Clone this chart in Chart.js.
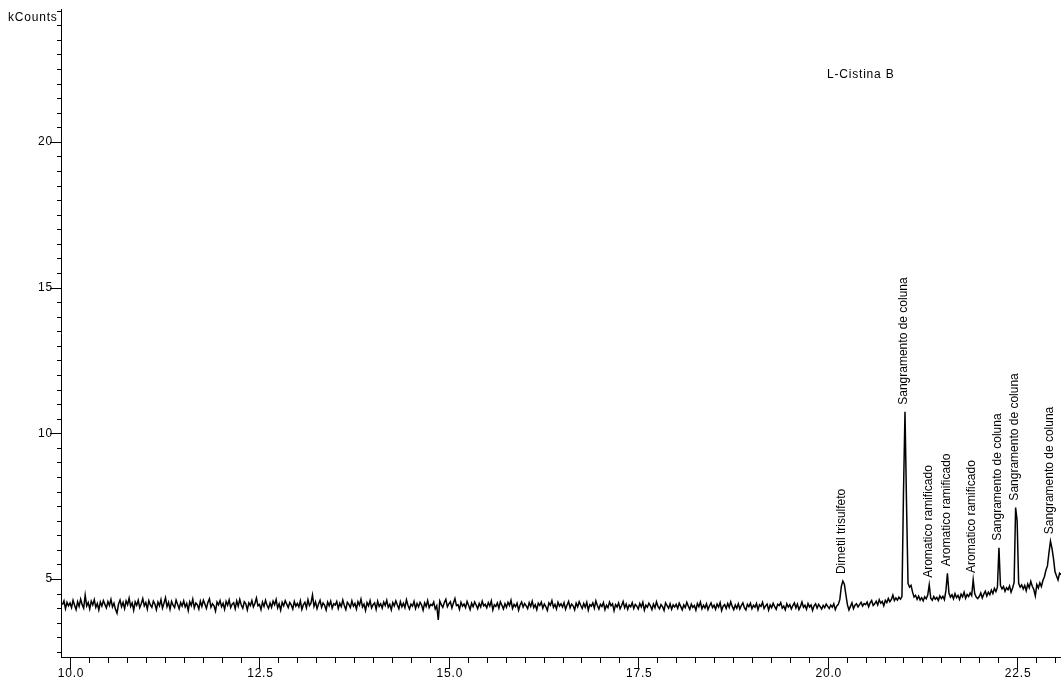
<!DOCTYPE html>
<html>
<head>
<meta charset="utf-8">
<title>L-Cistina B</title>
<script src="https://cdn.jsdelivr.net/npm/chart.js@4.4.1/dist/chart.umd.min.js"></script>
<style>
  html, body { margin: 0; padding: 0; background: #fff; }
  #wrap { width: 1061px; height: 681px; }
</style>
</head>
<body>
<div id="wrap"><canvas id="chrom" width="1061" height="681"></canvas></div>
<script>
// Chromatogram, L-Cistina B ----------------------------------------------------
const sampleName = "L-Cistina B";
const yUnit = "kCounts";

// retention time grid (min)
const tStart = 9.9;
const tStep = 0.02;

// detector signal (kCounts), one value per grid step, rows of 0.5 min
const signal = [
  4.12, 4.25, 3.98, 4.20, 4.08,
  // 10.0
  4.18, 4.02, 4.27, 4.10, 3.95, 4.22, 4.06, 4.31, 4.12, 4.00, 4.45, 4.08, 4.19, 3.97, 4.24, 4.11, 4.29, 4.03, 4.16, 3.94, 4.21, 4.07, 4.26, 4.13, 4.01,
  4.23, 4.09, 4.30, 4.04, 4.17, 3.96, 3.83, 4.14, 4.28, 4.05, 4.20, 3.99, 4.25, 4.12, 4.34, 4.06, 4.18, 3.93, 4.22, 4.10, 4.27, 4.02, 4.15, 4.33, 4.08,
  // 11.0
  4.19, 3.97, 4.26, 4.11, 4.03, 4.24, 4.14, 3.95, 4.21, 4.08, 4.29, 4.00, 4.17, 4.36, 4.05, 4.20, 3.96, 4.23, 4.10, 4.02, 4.28, 4.13, 3.98, 4.19, 4.07,
  4.25, 4.04, 4.16, 3.92, 4.22, 4.09, 4.31, 4.01, 4.18, 4.12, 3.97, 4.24, 4.06, 4.27, 4.14, 3.99, 4.20, 4.32, 4.03, 4.15, 4.08, 3.90, 4.21, 4.11, 4.26,
  // 12.0
  4.05, 4.17, 3.96, 4.23, 4.10, 4.28, 4.02, 4.14, 4.19, 3.98, 4.25, 4.07, 4.30, 4.11, 4.00, 4.22, 4.15, 3.94, 4.18, 4.09, 4.26, 4.04, 4.16, 4.35, 4.08,
  4.13, 3.95, 4.21, 4.06, 4.27, 4.10, 3.99, 4.18, 4.03, 4.24, 4.12, 4.30, 4.01, 4.15, 3.93, 4.20, 4.08, 4.26, 4.14, 4.02, 4.19, 4.11, 3.97, 4.23, 4.07,
  // 13.0
  4.16, 4.04, 4.25, 3.96, 4.12, 4.20, 4.01, 4.29, 4.09, 4.17, 4.45, 4.06, 4.22, 3.98, 4.14, 4.27, 4.03, 4.18, 4.10, 3.94, 4.21, 4.08, 4.24, 4.00, 4.15,
  4.11, 4.23, 3.99, 4.17, 4.05, 4.28, 4.09, 3.95, 4.20, 4.13, 4.02, 4.25, 4.07, 4.16, 3.97, 4.22, 4.10, 4.31, 4.04, 4.14, 3.92, 4.19, 4.08, 4.26, 4.01,
  // 14.0
  4.12, 4.18, 3.96, 4.24, 4.06, 4.15, 4.00, 4.21, 4.09, 4.27, 4.03, 4.13, 3.94, 4.19, 4.08, 4.25, 4.11, 3.98, 4.22, 4.05, 4.17, 4.02, 4.29, 4.10, 3.97,
  4.14, 4.07, 4.23, 3.99, 4.16, 4.04, 4.20, 4.11, 3.93, 4.18, 4.06, 4.26, 4.02, 4.13, 4.09, 4.21, 3.97, 4.08, 3.60, 4.24, 4.12, 4.03, 4.19, 4.30, 4.05,
  // 15.0
  4.15, 4.22, 4.01, 4.18, 4.33, 4.09, 4.12, 3.96, 4.20, 4.07, 4.14, 4.02, 4.23, 4.10, 3.95, 4.17, 4.05, 4.21, 4.11, 3.98, 4.16, 4.04, 4.24, 4.08, 4.13,
  4.01, 4.19, 4.07, 4.25, 3.94, 4.12, 4.06, 4.18, 4.00, 4.22, 4.10, 3.97, 4.15, 4.03, 4.20, 4.09, 4.27, 3.99, 4.13, 4.05, 4.17, 3.93, 4.11, 4.21, 4.04,
  // 16.0
  4.16, 4.08, 3.98, 4.19, 4.06, 4.24, 4.02, 4.12, 3.95, 4.17, 4.09, 4.21, 4.00, 4.14, 4.05, 3.92, 4.18, 4.10, 4.26, 4.03, 4.13, 3.97, 4.20, 4.07, 4.15,
  4.04, 4.19, 3.96, 4.11, 4.23, 4.01, 4.14, 4.08, 3.94, 4.17, 4.05, 4.22, 4.10, 3.99, 4.16, 4.03, 4.20, 3.93, 4.12, 4.07, 4.18, 4.00, 4.25, 4.09, 3.97,
  // 17.0
  4.13, 4.06, 4.19, 3.95, 4.10, 4.02, 4.21, 4.08, 4.15, 3.91, 4.12, 4.04, 4.18, 3.98, 4.09, 4.23, 4.01, 4.14, 3.96, 4.11, 4.05, 4.19, 3.99, 4.13, 4.07,
  3.97, 4.16, 4.04, 4.20, 3.93, 4.10, 4.03, 4.17, 4.08, 3.95, 4.14, 4.01, 4.22, 4.06, 3.98, 4.12, 4.05, 3.92, 4.18, 4.09, 4.00, 4.15, 3.96, 4.11, 4.04,
  // 18.0
  4.13, 3.99, 4.17, 4.06, 3.94, 4.11, 4.02, 4.20, 4.07, 3.96, 4.14, 4.03, 4.09, 3.93, 4.16, 4.05, 4.21, 3.98, 4.10, 4.01, 4.15, 3.95, 4.08, 4.18, 4.02,
  4.10, 3.96, 4.14, 4.04, 4.19, 3.92, 4.07, 4.12, 3.99, 4.16, 4.03, 4.22, 4.06, 3.95, 4.11, 4.00, 4.15, 3.97, 4.09, 4.18, 4.02, 3.94, 4.13, 4.05, 4.17,
  // 19.0
  3.98, 4.10, 4.03, 4.16, 3.95, 4.12, 4.06, 4.20, 3.99, 4.08, 4.14, 3.93, 4.11, 4.02, 4.17, 4.05, 3.96, 4.13, 4.09, 4.19, 4.00, 4.07, 3.94, 4.15, 4.04,
  4.12, 3.97, 4.09, 4.18, 4.01, 4.14, 3.95, 4.06, 4.21, 4.03, 4.10, 3.96, 4.16, 4.04, 4.11, 3.92, 4.08, 4.15, 4.00, 4.13, 4.05, 3.97, 4.10, 4.02, 4.14,
  // 20.0
  4.06, 3.99, 4.11, 4.03, 4.15, 3.95, 4.08, 4.13, 4.30, 4.75, 4.93, 4.82, 4.46, 4.12, 3.94, 4.06, 4.18, 3.98, 4.10, 4.15, 4.04, 4.12, 4.20, 4.07, 4.16,
  4.12, 4.21, 4.05, 4.18, 4.26, 4.09, 4.15, 4.24, 4.11, 4.29, 4.17, 4.23, 4.08, 4.27, 4.19, 4.33, 4.22, 4.30, 4.45, 4.26, 4.35, 4.28, 4.38, 4.31, 4.40,
  // 21.0
  7.95, 10.74, 7.60, 4.85, 4.72, 4.78, 4.55, 4.38, 4.44, 4.30, 4.41, 4.28, 4.36, 4.25, 4.39, 4.32, 4.45, 4.80, 4.34, 4.27, 4.40, 4.31, 4.37, 4.26, 4.42,
  4.33, 4.41, 4.29, 4.60, 5.20, 4.52, 4.38, 4.46, 4.32, 4.50, 4.36, 4.44, 4.30, 4.48, 4.39, 4.55, 4.34, 4.47, 4.40, 4.52, 4.43, 4.97, 4.50, 4.38, 4.33,
  // 22.0
  4.40, 4.52, 4.35, 4.48, 4.58, 4.42, 4.55, 4.46, 4.62, 4.50, 4.68, 4.57, 4.72, 6.07, 4.78, 4.66, 4.74, 4.58, 4.70, 4.63, 4.76, 4.55, 4.69, 4.88, 7.45,
  7.00, 4.85, 4.72, 4.80, 4.66, 4.78, 4.60, 4.83, 4.70, 4.92, 4.75, 4.64, 4.42, 4.81, 4.69, 4.87, 4.74, 4.95, 5.08, 5.30, 5.45, 5.90, 6.30, 6.05, 5.70,
  // 23.0
  5.25, 5.10, 4.97, 5.20, 5.15,
];

// identified peaks
const peakTimes = [20.20, 21.02, 21.34, 21.58, 21.92, 22.26, 22.48, 22.94];
const peakNames = [
  "Dimetil trisulfeto",
  "Sangramento de coluna",
  "Aromatico ramificado",
  "Aromatico ramificado",
  "Aromatico ramificado",
  "Sangramento de coluna",
  "Sangramento de coluna",
  "Sangramento de coluna",
];

// labelled ticks
const xMajorTicks = [10.0, 12.5, 15.0, 17.5, 20.0, 22.5];
const yMajorTicks = [5, 10, 15, 20];
//---------------------------------------------------------------------------------

const points = signal.map((v, i) => ({ x: tStart + i * tStep, y: v }));

const FONT = '12px "Liberation Sans", Arial, sans-serif';

// axes, ticks and texts in the old instrument-software style
const chromAxes = {
  id: "chromAxes",
  afterDatasetsDraw(chart) {
    const { ctx, chartArea: area } = chart;
    const xs = chart.scales.x;
    const ys = chart.scales.y;
    const axisX = area.left - 0.5;
    const axisY = area.bottom - 0.5;

    ctx.save();
    ctx.strokeStyle = "#000";
    ctx.lineWidth = 1;
    ctx.beginPath();
    ctx.moveTo(axisX, area.top);
    ctx.lineTo(axisX, area.bottom);
    ctx.moveTo(area.left - 1, axisY);
    ctx.lineTo(area.right, axisY);

    // y ticks every 0.5, long ones every 5
    for (let k = Math.ceil(ys.min * 2); k <= Math.floor(ys.max * 2); k++) {
      const py = Math.round(ys.getPixelForValue(k / 2)) + 0.5;
      const len = k % 10 === 0 ? 11 : 4;
      ctx.moveTo(area.left - 1 - len, py);
      ctx.lineTo(area.left - 1, py);
    }
    // x ticks every 0.25, long ones every 2.5
    for (let k = Math.ceil(xs.min * 4); k <= Math.floor(xs.max * 4); k++) {
      const px = Math.round(xs.getPixelForValue(k / 4)) + 0.5;
      const len = k % 10 === 0 ? 11 : 5;
      ctx.moveTo(px, area.bottom);
      ctx.lineTo(px, area.bottom + len);
    }
    ctx.stroke();

    ctx.fillStyle = "#000";
    ctx.font = FONT;
    ctx.letterSpacing = "0.8px";

    ctx.textAlign = "right";
    ctx.textBaseline = "middle";
    yMajorTicks.forEach((v) => {
      ctx.fillText(String(v), area.left - 9, ys.getPixelForValue(v));
    });

    ctx.textAlign = "center";
    ctx.textBaseline = "alphabetic";
    xMajorTicks.forEach((v) => {
      ctx.fillText(v.toFixed(1), xs.getPixelForValue(v) + 1, area.bottom + 19);
    });

    ctx.textAlign = "left";
    ctx.fillText(yUnit, 8, 21);
    ctx.fillText(sampleName, 827, 78);

    // peak names, standing on top of each peak
    ctx.letterSpacing = "0px";
    ctx.textBaseline = "middle";
    peakTimes.forEach((t, i) => {
      const idx = Math.round((t - tStart) / tStep);
      const px = xs.getPixelForValue(t) - 1;
      const py = ys.getPixelForValue(signal[idx]) - 7;
      ctx.save();
      ctx.translate(px, py);
      ctx.rotate(-Math.PI / 2);
      ctx.fillText(peakNames[i], 0, 0);
      ctx.restore();
    });
    ctx.restore();
  },
};

const chromChart = new Chart(document.getElementById("chrom"), {
  type: "line",
  data: {
    datasets: [
      {
        label: sampleName,
        data: points,
        borderColor: "#000",
        borderWidth: 1.5,
        pointRadius: 0,
        tension: 0,
        fill: false,
      },
    ],
  },
  options: {
    responsive: false,
    devicePixelRatio: 1,
    animation: false,
    layout: {
      padding: { left: 62, right: 0, top: 9, bottom: 23 },
    },
    scales: {
      x: { type: "linear", display: false, min: 9.894, max: 23.079 },
      y: { type: "linear", display: false, min: 2.29, max: 24.56 },
    },
    plugins: {
      legend: { display: false },
      tooltip: { enabled: false },
    },
  },
  plugins: [chromAxes],
});
</script>
</body>
</html>
